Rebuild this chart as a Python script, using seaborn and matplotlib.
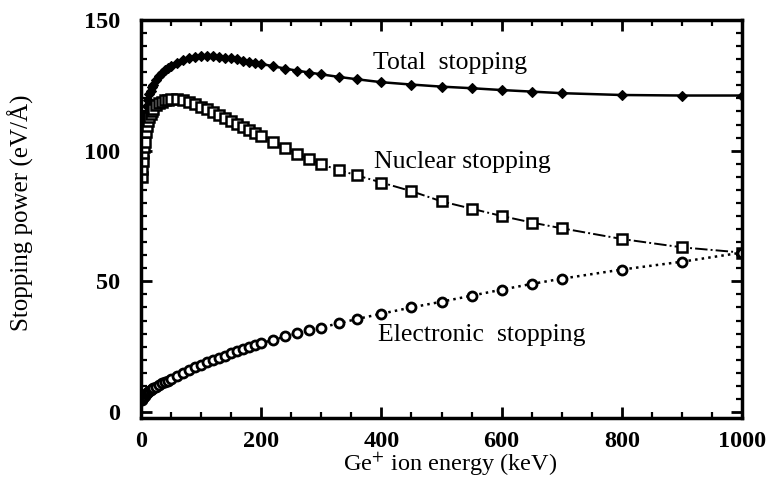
import matplotlib
matplotlib.use("Agg")
import matplotlib.pyplot as plt
from matplotlib.ticker import MultipleLocator
import seaborn as sns
import pandas as pd

energy = [1, 2, 3, 4, 5, 6, 8, 10, 12, 14, 16, 18, 20, 25, 30, 35, 40, 45, 50,
          60, 70, 80, 90, 100, 110, 120, 130, 140, 150, 160, 170, 180, 190, 200,
          220, 240, 260, 280, 300, 330, 360, 400, 450, 500, 550, 600, 650, 700,
          800, 900, 1000]

total = [94.5, 98, 101.5, 105, 107.5, 110, 114, 117, 119.5, 121.5, 123, 124.3, 125.3,
         127.2, 128.6, 129.8, 130.8, 131.6, 132.3, 133.6, 134.6, 135.3, 135.8, 136.1,
         136.2, 136.1, 135.9, 135.6, 135.3, 134.9, 134.5, 134.1, 133.7, 133.2,
         132.3, 131.4, 130.6, 129.9, 129.2, 128.2, 127.3, 126.2, 125.3, 124.5,
         123.9, 123.2, 122.6, 122.0, 121.3, 121.1, 121.1]

nuclear = [90, 93, 96, 99, 101.5, 103.5, 107, 109.5, 111.5, 113, 114.2, 115.2, 116,
           117.3, 118.2, 118.8, 119.2, 119.5, 119.6, 119.6, 119.2, 118.5, 117.7, 116.8,
           115.8, 114.8, 113.7, 112.6, 111.5, 110.3, 109.1, 107.9, 106.7, 105.5,
           103.2, 101.0, 98.8, 96.7, 94.8, 92.5, 90.5, 87.8, 84.5, 80.6,
           77.8, 75.0, 72.5, 70.3, 66.2, 63.0, 61.0]

electronic = [4.5, 5, 5.3, 5.6, 6, 6.3, 6.8, 7.2, 7.6, 8, 8.4, 8.7, 9, 9.7, 10.3, 11,
              11.5, 12, 12.5, 13.8, 15, 16.1, 17.1, 18, 19, 19.9, 20.8, 21.6, 22.4,
              23.2, 24, 24.8, 25.5, 26.3, 27.6, 28.9, 30.1, 31.2, 32.3, 34, 35.6,
              37.6, 40, 42.2, 44.5, 46.8, 49, 51, 54.5, 57.5, 61]

x_ticks = [0, 200, 400, 600, 800, 1000]
y_ticks = [0, 50, 100, 150]
labels = ["Total  stopping", "Nuclear stopping", "Electronic  stopping"]

df = pd.DataFrame({"energy": energy, "total": total, "nuclear": nuclear,
                   "electronic": electronic})

sns.set_style("ticks")
serif = ["Liberation Serif", "DejaVu Serif"]
plt.rcParams["font.family"] = serif
plt.rcParams["mathtext.fontset"] = "stix"
plt.rcParams["text.color"] = "black"
plt.rcParams["axes.labelcolor"] = "black"
plt.rcParams["xtick.color"] = "black"
plt.rcParams["ytick.color"] = "black"

fig = plt.figure(figsize=(7.72, 4.9), dpi=100)
ax = fig.add_axes([141 / 772, 1 - 418 / 490, 601 / 772, 398 / 490])

sns.lineplot(data=df, x="energy", y="total", ax=ax, color="black", linewidth=1.8,
             linestyle="-", marker="D", markersize=5, markerfacecolor="black",
             markeredgecolor="black", markeredgewidth=0.8)
sns.lineplot(data=df, x="energy", y="nuclear", ax=ax, color="black", linewidth=1.4,
             linestyle="-.", marker="s", markersize=7, markerfacecolor="white",
             markeredgecolor="black", markeredgewidth=1.8)
sns.lineplot(data=df, x="energy", y="electronic", ax=ax, color="black", linewidth=1.8,
             linestyle=":", marker="o", markersize=6.5, markerfacecolor="white",
             markeredgecolor="black", markeredgewidth=2.0)

ax.set_xlim(0, 1000)
ax.set_ylim(-2.3, 150)
ax.set_xticks(x_ticks)
ax.set_yticks(y_ticks)
ax.xaxis.set_minor_locator(MultipleLocator(50))
ax.yaxis.set_minor_locator(MultipleLocator(5))
ax.tick_params(which="both", direction="in", top=True, right=True, width=2,
               colors="black")
ax.tick_params(which="major", length=8)
ax.tick_params(which="minor", length=4, width=1.6)
ax.tick_params(axis="x", which="major", pad=9, labelsize=17.5)
ax.tick_params(axis="y", which="major", pad=15, labelsize=17.5)
for lab in ax.get_xticklabels() + ax.get_yticklabels():
    lab.set_fontweight("bold")
for sp in ax.spines.values():
    sp.set_linewidth(2.5)
    sp.set_color("black")

ax.set_xlabel("Ge$^{+}$ ion energy (keV)", fontsize=17.5)
ax.set_ylabel("Stopping power (eV/Å)", fontsize=18)
ax.xaxis.set_label_coords((450 - 141) / 601, (418 - 464) / 398)
ax.xaxis.label.set_va("center")
ax.yaxis.set_label_coords((21 - 141) / 601, (418 - 213) / 398)
ax.yaxis.label.set_va("center")

ax.text((373 - 141) / 0.601, 133.6, labels[0], fontsize=18.5, ha="left", va="center")
ax.text((374 - 141) / 0.601, 95.7, labels[1], fontsize=18.5, ha="left", va="center")
ax.text((378 - 141) / 0.601, 29.5, labels[2], fontsize=18.5, ha="left", va="center")

fig.savefig("out.png", dpi=100)
